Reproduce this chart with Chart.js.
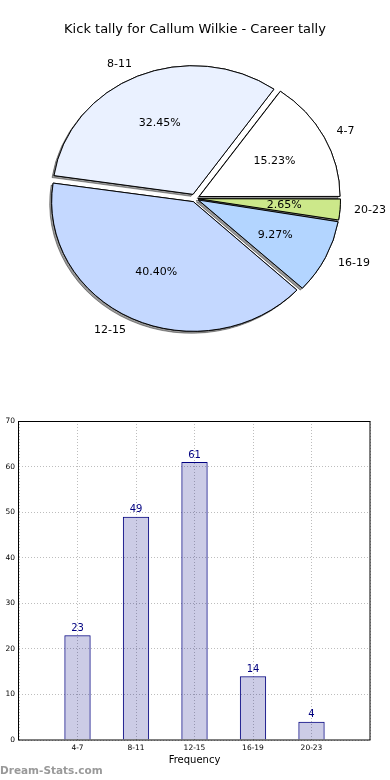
<!DOCTYPE html>
<html>
<head>
<meta charset="utf-8">
<script src="https://cdn.jsdelivr.net/npm/chart.js@4/dist/chart.umd.min.js"></script>
<style>
  html, body { margin: 0; padding: 0; background: #fff; }
  #wrap { position: relative; width: 390px; height: 780px; overflow: hidden; }
  #pie { position: absolute; left: 0; top: 0; }
  #bar { position: absolute; left: 0; top: 400px; }
  #wm { position: absolute; left: 0; top: 765px; font: bold 10.5px "DejaVu Sans", sans-serif; line-height: 1; color: #999; white-space: nowrap; }
</style>
</head>
<body>
<div id="wrap">
  <canvas id="pie" width="390" height="400"></canvas>
  <canvas id="bar" width="390" height="380"></canvas>
  <div id="wm">Dream-Stats.com</div>
</div>
<script>
// ---- data ----
const TITLE = "Kick tally for Callum Wilkie - Career tally";
const categories = ["4-7", "8-11", "12-15", "16-19", "20-23"];
const kicks = [23, 49, 61, 14, 4];
const sliceColors = ["#ffffff", "#eaf1ff", "#c4d8ff", "#b3d5ff", "#cce88a"];
const yTicks = { min: 0, max: 70, step: 10 };
const xAxisTitle = "Frequency";

// ---- styling constants ----
const FONT = "DejaVu Sans";
const K = 0.915;        // vertical squash of the (non-equal-aspect) pie
const EXPLODE = 5.5;    // px offset of each wedge
const total = kicks.reduce((a, b) => a + b, 0);

// pie drawn clockwise from 3 o'clock in Chart.js; matplotlib goes counter-clockwise -> reverse
const pieLabels = categories.slice().reverse();
const pieValues = kicks.slice().reverse();
const pieColors = sliceColors.slice().reverse();

const piePlugin = {
  id: 'piePlugin',
  beforeDatasetsDraw(chart) {
    const ctx = chart.ctx;
    const meta = chart.getDatasetMeta(0);
    const a0 = meta.data[0];
    const cx = a0.x, cy = a0.y;
    ctx.save();
    ctx.translate(cx, cy);
    ctx.scale(1, K);
    ctx.translate(-cx, -cy);
    // shadows below all wedges
    ctx.save();
    ctx.shadowColor = 'rgba(0,0,0,0.4)';
    ctx.shadowOffsetX = -2;
    ctx.shadowOffsetY = 2;
    ctx.shadowBlur = 0;
    meta.data.forEach(a => a.draw(ctx));
    ctx.restore();
  },
  afterDatasetsDraw(chart) {
    const ctx = chart.ctx;
    ctx.restore();
    const meta = chart.getDatasetMeta(0);
    ctx.save();
    ctx.fillStyle = '#000';
    ctx.font = '11px "' + FONT + '"';
    ctx.textBaseline = 'middle';
    meta.data.forEach((arc, i) => {
      const p = arc.getProps(['x', 'y', 'startAngle', 'endAngle', 'outerRadius'], true);
      const mid = (p.startAngle + p.endAngle) / 2;
      const c = Math.cos(mid), s = Math.sin(mid);
      const r1 = EXPLODE + 1.1 * p.outerRadius;
      ctx.textAlign = c > 0 ? 'left' : 'right';
      ctx.fillText(pieLabels[i], p.x + c * r1, p.y + K * s * r1);
      const r2 = EXPLODE + 0.6 * p.outerRadius;
      ctx.textAlign = 'center';
      ctx.fillText((pieValues[i] / total * 100).toFixed(2) + '%', p.x + c * r2, p.y + K * s * r2);
    });
    ctx.restore();
  }
};

new Chart(document.getElementById('pie'), {
  type: 'pie',
  data: {
    labels: pieLabels,
    datasets: [{
      data: pieValues,
      backgroundColor: pieColors,
      borderColor: '#000',
      borderWidth: 1,
      hoverOffset: 0,
      offset: (c) => {
        const circ = 2 * Math.PI * pieValues[c.dataIndex] / total;
        const fix = 1 - Math.sin(Math.min(Math.PI, circ));
        return 4 * EXPLODE / (1 + fix);
      }
    }]
  },
  options: {
    responsive: false,
    animation: false,
    events: [],
    rotation: 90,
    radius: 140,
    layout: { padding: { top: 0, bottom: 40.6, left: 0, right: 0 } },
    plugins: {
      legend: { display: false },
      tooltip: { enabled: false },
      title: {
        display: true, text: TITLE, color: '#000',
        font: { family: FONT, size: 13, weight: 'normal' },
        padding: { top: 22, bottom: 0 }
      }
    }
  },
  plugins: [piePlugin]
});

// ---- bar chart ----
const barPlugin = {
  id: 'barPlugin',
  afterDatasetsDraw(chart) {
    const ctx = chart.ctx;
    const a = chart.chartArea;
    ctx.save();
    ctx.strokeStyle = '#000';
    ctx.lineWidth = 1;
    ctx.strokeRect(Math.round(a.left) - 0.5, Math.round(a.top) + 0.5, Math.round(a.right) - Math.round(a.left) + 0.5, Math.round(a.bottom) - Math.round(a.top) - 0.5);
    const meta = chart.getDatasetMeta(0);
    ctx.fillStyle = '#000080';
    ctx.font = '10px "' + FONT + '"';
    ctx.textAlign = 'center';
    ctx.textBaseline = 'bottom';
    meta.data.forEach((bar, i) => {
      ctx.fillText(String(kicks[i]), bar.x, bar.y - 2);
    });
    ctx.restore();
  }
};

const tickFont = { family: FONT, size: 7.5 };

new Chart(document.getElementById('bar'), {
  type: 'bar',
  data: {
    datasets: [{
      data: kicks.map((v, i) => ({ x: i + 1, y: v })),
      backgroundColor: 'rgba(0,0,128,0.2)',
      borderColor: '#000080',
      borderWidth: 1,
      barPercentage: 0.45,
      categoryPercentage: 1
    }]
  },
  options: {
    responsive: false,
    animation: false,
    events: [],
    layout: { padding: { top: 21, right: 20, left: 0, bottom: 0 } },
    plugins: { legend: { display: false }, tooltip: { enabled: false } },
    scales: {
      x: {
        type: 'linear', min: 0, max: categories.length + 1, offset: false,
        grid: { offset: false, color: '#bdbdbd', lineWidth: 1, drawTicks: false },
        border: { display: false, dash: [1, 2] },
        ticks: {
          stepSize: 1, autoSkip: false, maxRotation: 0, padding: 4, color: '#000', font: tickFont,
          callback: (v) => (v >= 1 && v <= categories.length) ? categories[v - 1] : ''
        },
        title: { display: true, text: xAxisTitle, color: '#000', font: { family: FONT, size: 10 }, padding: { top: 0, bottom: 14 } },
        afterFit: (s) => { s.height = 40; }
      },
      y: {
        min: yTicks.min, max: yTicks.max,
        grid: { color: '#bdbdbd', lineWidth: 1, drawTicks: false },
        border: { display: false, dash: [1, 2] },
        ticks: { stepSize: yTicks.step, padding: 4, color: '#000', font: tickFont },
        afterFit: (s) => { s.width = 19; }
      }
    }
  },
  plugins: [barPlugin]
});
</script>
</body>
</html>
